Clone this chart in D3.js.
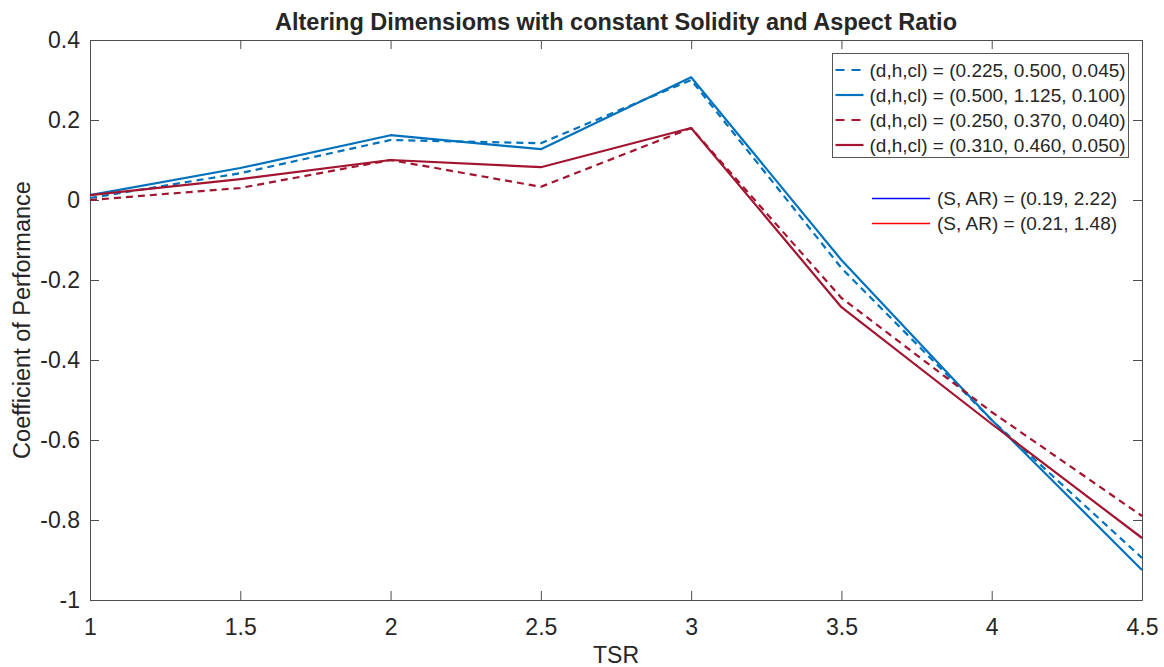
<!DOCTYPE html>
<html>
<head>
<meta charset="utf-8">
<script src="https://cdn.jsdelivr.net/npm/d3@7"></script>
<style>
  body { margin: 0; background: #fff; }
  svg text { font-family: "Liberation Sans", Arial, Helvetica, sans-serif; fill: #262626; }
</style>
</head>
<body>
<div id="chart"></div>
<script>
// data
const tsr = [1, 1.5, 2, 2.5, 3, 3.5, 4, 4.5];
const cpBlueDash  = [0.005, 0.067, 0.15, 0.142, 0.30, -0.17, -0.55, -0.895];
const cpBlueSolid = [0.012, 0.08, 0.162, 0.127, 0.307, -0.15, -0.55, -0.925];
const cpRedDash   = [0.0, 0.03, 0.10, 0.033, 0.18, -0.245, -0.53, -0.79];
const cpRedSolid  = [0.012, 0.052, 0.10, 0.082, 0.18, -0.268, -0.56, -0.845];

const seriesLabels = [
  '(d,h,cl) = (0.225, 0.500, 0.045)',
  '(d,h,cl) = (0.500, 1.125, 0.100)',
  '(d,h,cl) = (0.250, 0.370, 0.040)',
  '(d,h,cl) = (0.310, 0.460, 0.050)'
];
const groupLabels = ['(S, AR) = (0.19, 2.22)', '(S, AR) = (0.21, 1.48)'];
const xTicks = [1, 1.5, 2, 2.5, 3, 3.5, 4, 4.5];
const yTicks = [0.4, 0.2, 0, -0.2, -0.4, -0.6, -0.8, -1];

const blue = '#0072BD', red = '#A2142F';
const series = [
  { values: cpBlueDash,  color: blue, dash: '7,5' },
  { values: cpBlueSolid, color: blue, dash: null },
  { values: cpRedDash,   color: red,  dash: '7,5' },
  { values: cpRedSolid,  color: red,  dash: null }
];

const W = 1164, H = 667;
const margin = { top: 40, right: 22, bottom: 67, left: 90 };
const width = W - margin.left - margin.right;
const height = H - margin.top - margin.bottom;

const svg = d3.select('#chart').append('svg')
  .attr('width', W).attr('height', H);

const chart = svg.append('g')
  .attr('transform', `translate(${margin.left},${margin.top})`);

const x = d3.scaleLinear().domain([1, 4.5]).range([0, width]);
const y = d3.scaleLinear().domain([-1, 0.4]).range([height, 0]);

const fmt = d => String(+d.toFixed(1));
const axisColor = '#4d4d4d';

// axes, ticks pointing inward on all four sides
const xAxisG = chart.append('g').attr('transform', `translate(0,${height})`)
  .call(d3.axisBottom(x).tickValues(xTicks).tickFormat(fmt).tickSizeInner(-9).tickSizeOuter(0).tickPadding(19));
const xTopG = chart.append('g')
  .call(d3.axisTop(x).tickValues(xTicks).tickFormat('').tickSizeInner(-9).tickSizeOuter(0));
const yAxisG = chart.append('g')
  .call(d3.axisLeft(y).tickValues(yTicks).tickFormat(fmt).tickSizeInner(-9).tickSizeOuter(0).tickPadding(10));
const yRightG = chart.append('g').attr('transform', `translate(${width},0)`)
  .call(d3.axisRight(y).tickValues(yTicks).tickFormat('').tickSizeInner(-9).tickSizeOuter(0));

[xAxisG, xTopG, yAxisG, yRightG].forEach(g => {
  g.select('.domain').attr('stroke', axisColor);
  g.selectAll('.tick line').attr('stroke', axisColor);
  g.selectAll('.tick text').style('font-size', '23px').attr('fill', '#262626');
});

// lines
const line = d3.line()
  .x((d, i) => x(tsr[i]))
  .y(d => y(d));

chart.append('g').selectAll('path')
  .data(series)
  .join('path')
  .attr('d', d => line(d.values))
  .attr('fill', 'none')
  .attr('stroke', d => d.color)
  .attr('stroke-width', 2.2)
  .attr('stroke-dasharray', d => d.dash)
  .attr('stroke-linejoin', 'round');

// titles
svg.append('text')
  .attr('x', margin.left + width / 2).attr('y', 30)
  .attr('text-anchor', 'middle')
  .style('font-size', '23.5px').style('font-weight', 'bold')
  .attr('fill', '#000')
  .text('Altering Dimensioms with constant Solidity and Aspect Ratio');

svg.append('text')
  .attr('x', margin.left + width / 2).attr('y', 663)
  .attr('text-anchor', 'middle')
  .style('font-size', '23px')
  .text('TSR');

svg.append('text')
  .attr('transform', `translate(30,${margin.top + height / 2}) rotate(-90)`)
  .attr('text-anchor', 'middle')
  .style('font-size', '23.5px')
  .text('Coefficient of Performance');

// legend 1 (boxed)
const leg = svg.append('g').attr('transform', 'translate(832.5,53.5)');
leg.append('rect')
  .attr('width', 296).attr('height', 104)
  .attr('fill', '#fff').attr('stroke', '#555').attr('stroke-width', 1);

const rows = leg.selectAll('g.row')
  .data(series)
  .join('g')
  .attr('class', 'row')
  .attr('transform', (d, i) => `translate(0,${16.5 + i * 25})`);

rows.append('line')
  .attr('x1', 3).attr('x2', 31)
  .attr('stroke', d => d.color).attr('stroke-width', 2.2)
  .attr('stroke-dasharray', d => d.dash ? '9,7' : null);

rows.append('text')
  .attr('x', 37).attr('dy', '0.35em')
  .style('font-size', '19px')
  .text((d, i) => seriesLabels[i]);

// legend 2 (no box)
const leg2 = svg.append('g').attr('transform', 'translate(872,198.5)');
const rows2 = leg2.selectAll('g')
  .data(groupLabels)
  .join('g')
  .attr('transform', (d, i) => `translate(0,${i * 25})`);

rows2.append('line')
  .attr('x1', 0).attr('x2', 58)
  .attr('stroke', (d, i) => i === 0 ? '#0000ff' : '#ff0000')
  .attr('stroke-width', 1.3);

rows2.append('text')
  .attr('x', 65).attr('dy', '0.35em')
  .style('font-size', '19px')
  .text(d => d);
</script>
</body>
</html>
